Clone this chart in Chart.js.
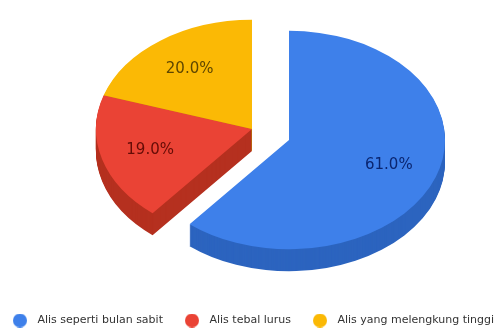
<!DOCTYPE html>
<html>
<head>
<meta charset="utf-8">
<title>Bentuk alis</title>
<script src="https://cdn.jsdelivr.net/npm/chart.js@4"></script>
<style>
  html, body { margin:0; padding:0; background:#fff; }
  canvas { display:block; filter:blur(0.5px); }
</style>
</head>
<body>
<canvas id="pieChart" width="498" height="330"></canvas>
<script>
const categories = ['Alis seperti bulan sabit', 'Alis tebal lurus', 'Alis yang melengkung tinggi'];
const shares = [61, 19, 20];

// slice look
const topColors = ['#3e80ea', '#ea4335', '#fbb905'];
const sideColors = ['#2c64bf', '#b5301f', '#bd8d03'];
const labelColors = ['#0a2570', '#640c06', '#5e4600'];

// 3D tilt: where each slice's tip sits on the page (blue is pulled out)
const tips = [[289, 140], [252, 129], [252, 129]];
const tilt = 0.7;
const depth = 22;
const labelRadius = 0.68;

function placeArc(ctx, arc, tip, drop){
  ctx.translate(tip[0], tip[1] + drop);
  ctx.scale(1, tilt);
  ctx.translate(-arc.x, -arc.y);
}

function paintArc(ctx, arc, color){
  const opts = arc.options;
  arc.options = Object.assign({}, opts, { backgroundColor: color });
  arc.draw(ctx);
  arc.options = opts;
}

// round legend marker, a plain circle whatever the legend box width is
function legendDot(color){
  const c = document.createElement('canvas');
  c.width = 14;
  c.height = 14;
  const g = c.getContext('2d');
  g.fillStyle = color;
  g.beginPath();
  g.arc(7, 7, 7, 0, Math.PI * 2);
  g.fill();
  return c;
}

const tiltedPie = {
  id: 'tiltedPie',
  beforeDatasetDraw(chart){
    const ctx = chart.ctx;
    const arcs = chart.getDatasetMeta(0).data;
    // side walls first, back slices before front ones
    for (let i = arcs.length - 1; i >= 0; i--){
      for (let d = depth; d > 0; d--){
        ctx.save();
        placeArc(ctx, arcs[i], tips[i], d);
        paintArc(ctx, arcs[i], sideColors[i]);
        ctx.restore();
      }
    }
    arcs.forEach((arc, i) => {
      ctx.save();
      placeArc(ctx, arc, tips[i], 0);
      paintArc(ctx, arc, topColors[i]);
      ctx.restore();
    });
    return false;
  },
  afterDatasetsDraw(chart){
    const ctx = chart.ctx;
    ctx.save();
    ctx.font = '15px "DejaVu Sans"';
    ctx.textAlign = 'center';
    ctx.textBaseline = 'middle';
    chart.getDatasetMeta(0).data.forEach((arc, i) => {
      const mid = (arc.startAngle + arc.endAngle) / 2;
      const r = arc.outerRadius * labelRadius;
      ctx.fillStyle = labelColors[i];
      ctx.fillText(shares[i].toFixed(1) + '%', tips[i][0] + Math.cos(mid) * r, tips[i][1] + Math.sin(mid) * r * tilt);
    });
    ctx.restore();
  }
};

new Chart(document.getElementById('pieChart'), {
  type: 'pie',
  data: {
    labels: categories,
    datasets: [{ data: shares, backgroundColor: topColors, borderWidth: 0, radius: 156, clip: false }]
  },
  options: {
    responsive: false,
    animation: false,
    // negative sides keep the legend on one line, as wide as the reference
    layout: { padding: { left: -12, right: -16, bottom: -6 } },
    plugins: {
      tooltip: { enabled: false },
      legend: {
        position: 'bottom',
        labels: {
          usePointStyle: true,
          pointStyleWidth: 24,
          padding: 17,
          color: '#333',
          font: { family: '"DejaVu Sans"', size: 11 },
          generateLabels(chart){
            return Chart.overrides.pie.plugins.legend.labels.generateLabels(chart).map((item, i) => {
              item.pointStyle = legendDot(topColors[i]);
              return item;
            });
          }
        }
      }
    }
  },
  plugins: [tiltedPie]
});
</script>
</body>
</html>
